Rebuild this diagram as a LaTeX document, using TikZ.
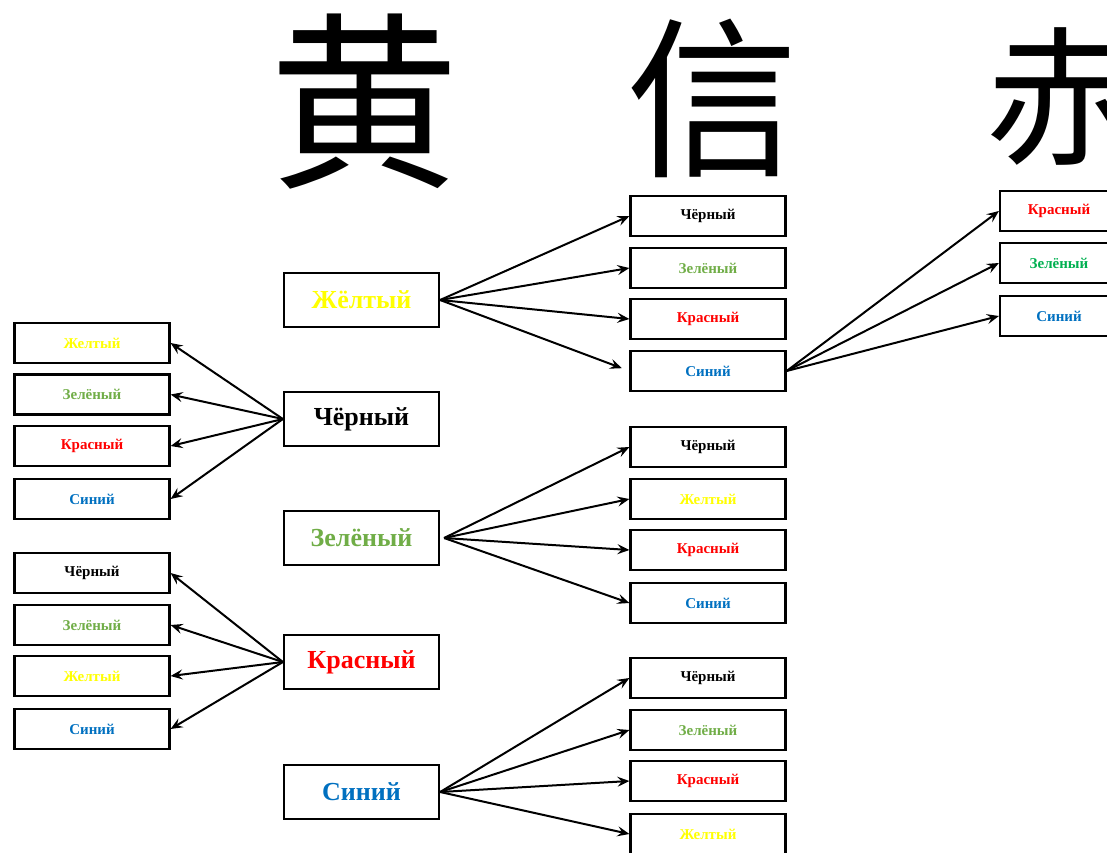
\documentclass[tikz,border=0pt]{standalone}
\usepackage{fontspec}
\setmainfont{Liberation Serif}
\newfontfamily\cjk{Noto Sans CJK SC}
\usetikzlibrary{arrows.meta}
\definecolor{cyel}{HTML}{FFFF00}
\definecolor{cgrn}{HTML}{70AD47}
\definecolor{cgrn2}{HTML}{00B050}
\definecolor{cred}{HTML}{FF0000}
\definecolor{cblu}{HTML}{0070C0}
\tikzset{
  bigbox/.style={draw, line width=2.2pt, minimum width=155pt, minimum height=54pt, inner sep=0pt,
    font=\fontsize{26}{28}\selectfont\bfseries},
  smallbox/.style={draw, line width=2.2pt, minimum width=155pt, minimum height=40pt, inner sep=0pt,
    font=\fontsize{15}{17}\selectfont\bfseries},
  edgebox/.style={smallbox, minimum width=118pt},
  glyph/.style={inner sep=0pt, font=\cjk},
  link/.style={line width=2pt, -{Stealth[length=12pt,width=10pt,inset=4.5pt]}},
}
\begin{document}
\begin{tikzpicture}[x=1pt,y=-1pt]
\useasboundingbox (0,0) rectangle (1107,852);

% headline characters
\node[glyph, font=\cjk\fontsize{190}{190}\selectfont] (h1) at (364,102) {黄};
\node[glyph, font=\cjk\fontsize{172}{172}\selectfont] (h2) at (712,98) {信};
\node[glyph, font=\cjk\fontsize{150}{150}\selectfont] (h3) at (1060,96) {赤};

% central column
\node[bigbox, text=cyel] (yel) at (361.5,300) {Жёлтый};
\node[bigbox, text=black] (blk) at (361.5,419) {Чёрный};
\node[bigbox, text=cgrn] (grn) at (361.5,538) {Зелёный};
\node[bigbox, text=cred] (red) at (361.5,662) {Красный};
\node[bigbox, text=cblu] (blu) at (361.5,792) {Синий};

% left column, first group
\node[smallbox, text=cyel] (l1) at (92,343) {Желтый};
\node[smallbox, text=cgrn] (l2) at (92,394.5) {Зелёный};
\node[smallbox, text=cred] (l3) at (92,446) {Красный};
\node[smallbox, text=cblu] (l4) at (92,499) {Синий};
% left column, second group
\node[smallbox, text=black] (l5) at (92,573) {Чёрный};
\node[smallbox, text=cgrn] (l6) at (92,625) {Зелёный};
\node[smallbox, text=cyel] (l7) at (92,676) {Желтый};
\node[smallbox, text=cblu] (l8) at (92,729) {Синий};

% right column, first group
\node[smallbox, text=black] (r1) at (708,216) {Чёрный};
\node[smallbox, text=cgrn] (r2) at (708,268) {Зелёный};
\node[smallbox, text=cred] (r3) at (708,319) {Красный};
\node[smallbox, text=cblu] (r4) at (708,371) {Синий};
% right column, second group
\node[smallbox, text=black] (r5) at (708,447) {Чёрный};
\node[smallbox, text=cyel] (r6) at (708,499) {Желтый};
\node[smallbox, text=cred] (r7) at (708,550) {Красный};
\node[smallbox, text=cblu] (r8) at (708,603) {Синий};
% right column, third group
\node[smallbox, text=black] (r9) at (708,678) {Чёрный};
\node[smallbox, text=cgrn] (r10) at (708,730) {Зелёный};
\node[smallbox, text=cred] (r11) at (708,781) {Красный};
\node[smallbox, text=cyel] (r12) at (708,834) {Желтый};

% far right column
\node[edgebox, text=cred] (f1) at (1059,211) {Красный};
\node[edgebox, text=cgrn2] (f2) at (1059,263) {Зелёный};
\node[edgebox, text=cblu] (f3) at (1059,316) {Синий};

% connectors
\foreach \t in {r1,r2,r3} \draw[link] (yel.east) -- (\t.west);
\draw[link, shorten >=8pt] (yel.east) -- (r4.west);
\foreach \t in {f1,f2,f3} \draw[link] (r4.east) -- (\t.west);
\foreach \t in {l1,l2,l3,l4} \draw[link] (blk.west) -- (\t.east);
\foreach \t in {r5,r6,r7,r8} \draw[link] ([xshift=4pt]grn.east) -- (\t.west);
\foreach \t in {l5,l6,l7,l8} \draw[link] (red.west) -- (\t.east);
\foreach \t in {r9,r10,r11,r12} \draw[link] (blu.east) -- (\t.west);
\end{tikzpicture}
\end{document}
